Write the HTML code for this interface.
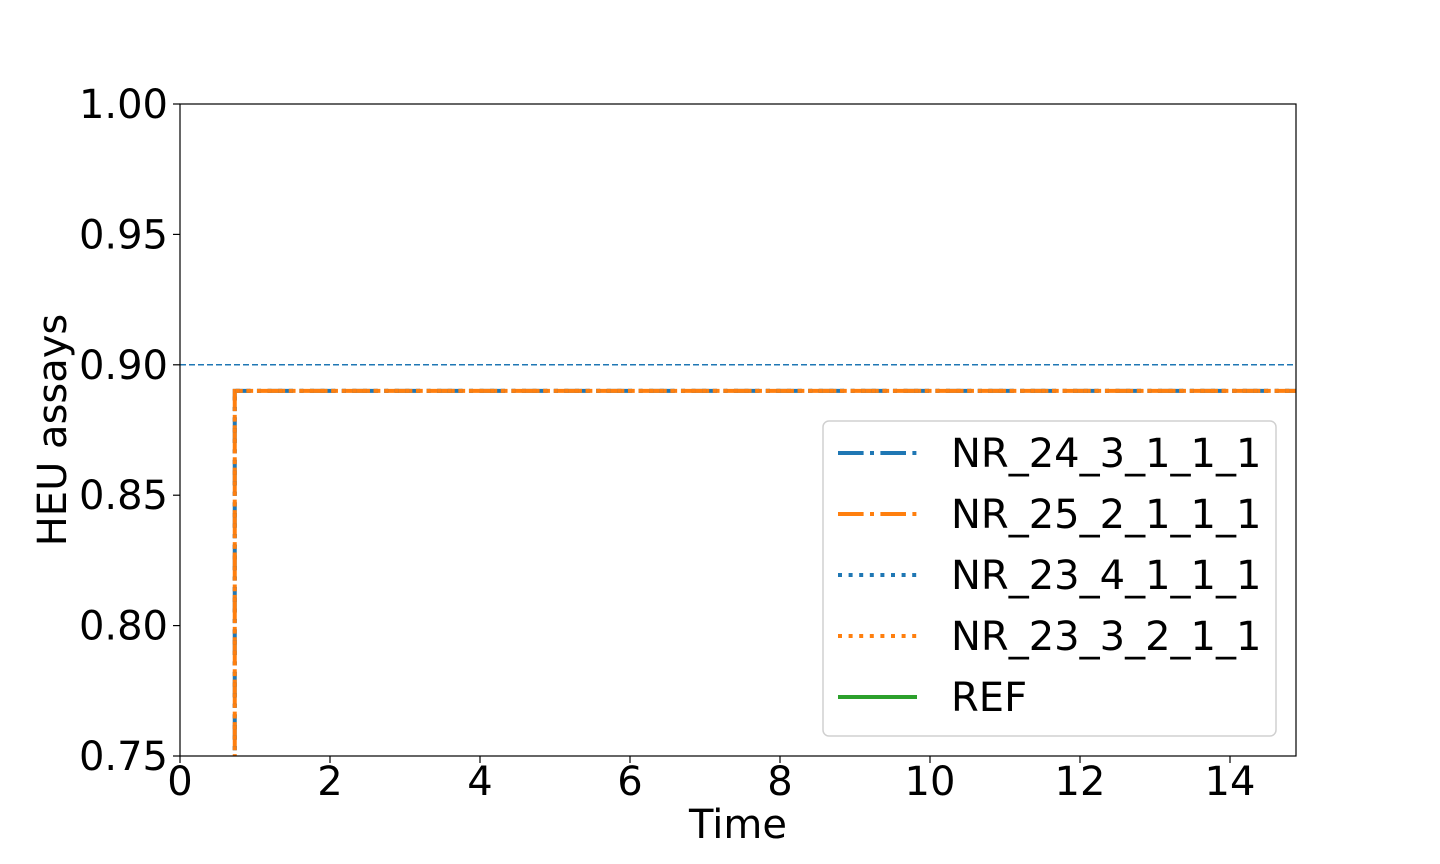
<!DOCTYPE html>
<html><head><meta charset="utf-8"><style>
html,body{margin:0;background:#fff;width:1440px;height:864px;overflow:hidden}
svg{display:block}
svg text{font-family:"DejaVu Sans","Liberation Sans",sans-serif;fill:#000}
</style></head><body>
<svg id="chart" width="1440" height="864">
<defs><clipPath id="clip"><rect x="180" y="104" width="1116" height="652"/></clipPath></defs>
<rect x="180" y="104" width="1116" height="652" fill="#fff"/>
<g id="series" clip-path="url(#clip)"></g>
<rect x="180" y="104" width="1116" height="652" fill="none" stroke="#000" stroke-width="1.2"/>
<g id="axes"></g>
<text x="738" y="838" font-size="40" text-anchor="middle">Time</text>
<text transform="translate(66,430) rotate(-90)" font-size="40" text-anchor="middle">HEU assays</text>
<g id="legend">
<rect x="823" y="421" width="453" height="315" rx="6" fill="#fff" stroke="#d0d0d0" stroke-width="1.5"/>
</g>
</svg>
<script>
const xTicks=[0,2,4,6,8,10,12,14];
const yTicks=[0.75,0.80,0.85,0.90,0.95,1.00];
const seriesNames=["NR_24_3_1_1_1","NR_25_2_1_1_1","NR_23_4_1_1_1","NR_23_3_2_1_1","REF"];
const seriesColors=["#1f77b4","#ff7f0e","#1f77b4","#ff7f0e","#2ca02c"];
const seriesDash=["25.6,6.4,4,6.4","25.6,6.4,4,6.4","4,6.6","4,6.6",""];
const stepX=[0.73,0.73,14.88];
const s1Y=[0.74,0.89,0.89];
const s2Y=[0.74,0.89,0.89];
const s3Y=[0.74,0.89,0.89];
const s4Y=[0.74,0.89,0.89];
const refX=[0,14.88];
const refY=[0.74,0.74];
const thresholdY=0.90;
const xMin=0,xMax=14.88,yMin=0.75,yMax=1.0;
const X=v=>180+(v-xMin)/(xMax-xMin)*1116;
const Y=v=>756-(v-yMin)/(yMax-yMin)*652;
const NS="http://www.w3.org/2000/svg";
function mk(tag,attrs,parent){const e=document.createElementNS(NS,tag);for(const k in attrs)e.setAttribute(k,attrs[k]);parent.appendChild(e);return e;}
const axes=document.getElementById('axes');
xTicks.forEach(t=>{
 const l=mk('line',{x1:X(t),x2:X(t),y1:756,y2:763,stroke:'#000','stroke-width':1.2},axes);
 
 
 const tx=mk('text',{x:X(t),y:795,'font-size':40,'text-anchor':'middle'},axes);
 tx.textContent=t;
 
 
});
yTicks.forEach(t=>{
 const l=mk('line',{x1:173,x2:180,y1:Y(t),y2:Y(t),stroke:'#000','stroke-width':1.2},axes);
 
 
 const tx=mk('text',{x:168,y:Y(t)+14,'font-size':40,'text-anchor':'end'},axes);
 tx.textContent=t.toFixed(2);
 
 
});
const sg=document.getElementById('series');
const th=mk('line',{x1:X(xMin),x2:X(xMax),y1:Y(thresholdY),y2:Y(thresholdY),stroke:'#1f77b4','stroke-width':1.5,'stroke-dasharray':'6,3'},sg);


const allY=[s1Y,s2Y,s3Y,s4Y];
const drawOrder=[4,0,1,2,3];
drawOrder.forEach(i=>{
 const xs=i===4?refX:stepX, ys=i===4?refY:allY[i];
 const pts=xs.map((x,j)=>X(x)+','+Y(ys[j])).join(' ');
 const p=mk('polyline',{points:pts,fill:'none',stroke:seriesColors[i],'stroke-width':4},sg);
 if(seriesDash[i])p.setAttribute('stroke-dasharray',seriesDash[i]);
 if(i===1)p.setAttribute('stroke-dashoffset','8');
 
 
});
const lg=document.getElementById('legend');
seriesNames.forEach((n,i)=>{
 const y=453+i*61;
 const l=mk('line',{x1:838,x2:917,y1:y,y2:y,stroke:seriesColors[i],'stroke-width':4},lg);
 if(seriesDash[i])l.setAttribute('stroke-dasharray',seriesDash[i]);
 
 
 const t=mk('text',{x:951,y:y+14,'font-size':40},lg);
 t.textContent=n;
 
 
});
</script>
</body></html>
